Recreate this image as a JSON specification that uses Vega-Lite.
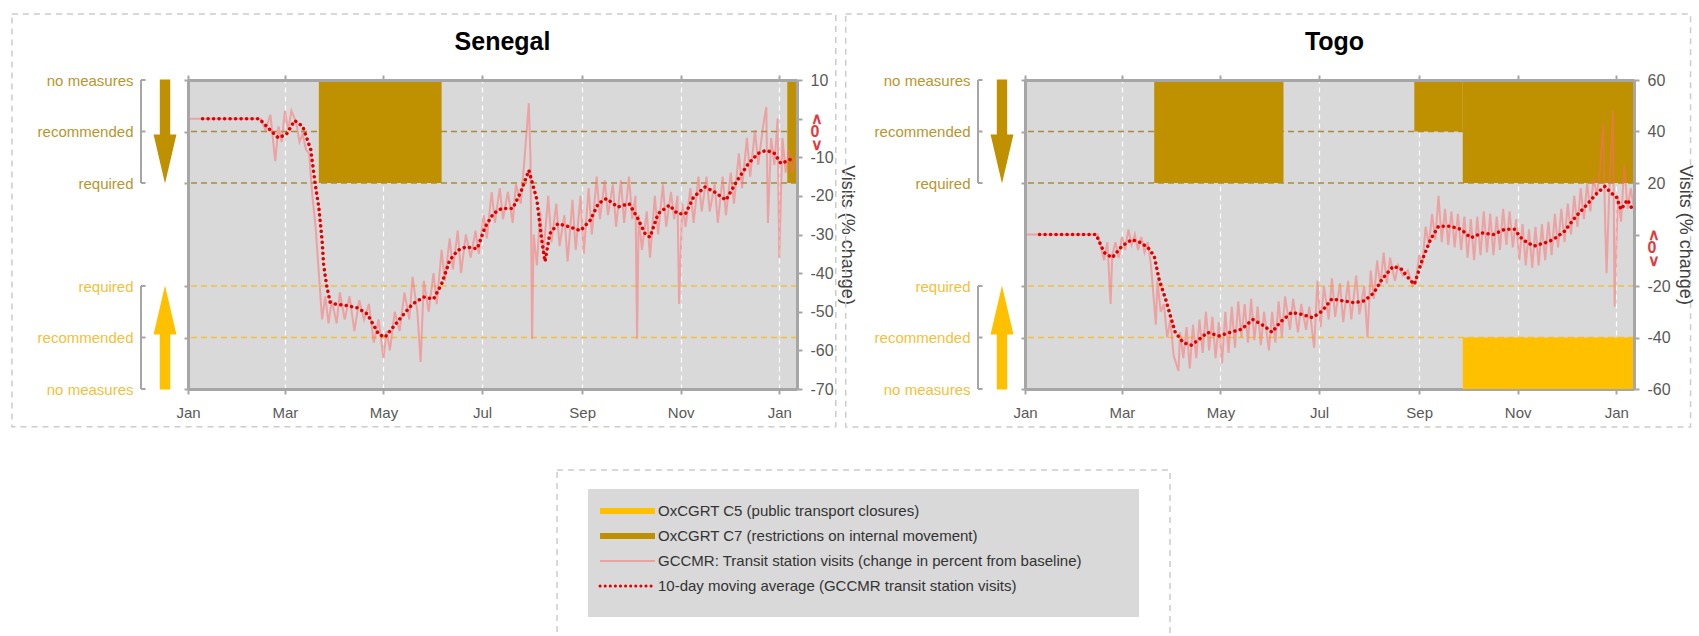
{
"$schema": "https://vega.github.io/schema/vega-lite/v6.json",
"background": "white",
"padding": {"left": 11, "top": 13, "right": 2, "bottom": 0},
"config": {"font": "Liberation Sans", "view": {"stroke": null}, "axis": {"labelFont": "Liberation Sans", "titleFont": "Liberation Sans", "labelOverlap": false}},
"datasets": {
"levelTicks": [
{"side": "C7", "value": 6, "label": "no measures"},
{"side": "C7", "value": 5, "label": "recommended"},
{"side": "C7", "value": 4, "label": "required"},
{"side": "C5", "value": 2, "label": "required"},
{"side": "C5", "value": 1, "label": "recommended"},
{"side": "C5", "value": 0, "label": "no measures"}
],
"levelLines": [
{"indicator": "C7", "level": 1}, {"indicator": "C7", "level": 2},
{"indicator": "C5", "level": 1}, {"indicator": "C5", "level": 2}
],
"policy": [
{"country": "Senegal", "indicator": "C7", "start": "2020-03-22", "end": "2020-06-06", "level": 2},
{"country": "Senegal", "indicator": "C7", "start": "2021-01-06", "end": "2021-01-12", "level": 2},
{"country": "Togo", "indicator": "C7", "start": "2020-03-21", "end": "2020-06-09", "level": 2},
{"country": "Togo", "indicator": "C7", "start": "2020-08-29", "end": "2020-09-28", "level": 1},
{"country": "Togo", "indicator": "C7", "start": "2020-09-28", "end": "2021-01-12", "level": 2},
{"country": "Togo", "indicator": "C5", "start": "2020-09-28", "end": "2021-01-12", "level": 1}
],
"legend": [
{"key": "C5", "label": "OxCGRT C5 (public transport closures)", "order": 1},
{"key": "C7", "label": "OxCGRT C7 (restrictions on internal movement)", "order": 2},
{"key": "GCCMR", "label": "GCCMR: Transit station visits (change in percent from baseline)", "order": 3},
{"key": "MA", "label": "10-day moving average (GCCMR transit station visits)", "order": 4}
],
"visitsSenegal": [
{"date":"2020-01-01","value":0},{"date":"2020-02-14","value":0},{"date":"2020-02-15","value":0},{"date":"2020-02-18","value":-3},{"date":"2020-02-21","value":1},{"date":"2020-02-24","value":-11},{"date":"2020-02-26","value":-2},{"date":"2020-02-28","value":-6},{"date":"2020-03-01","value":2},{"date":"2020-03-03","value":-3},{"date":"2020-03-05","value":2},{"date":"2020-03-08","value":-1},{"date":"2020-03-10","value":-6},{"date":"2020-03-12","value":-4},{"date":"2020-03-14","value":-8},{"date":"2020-03-16","value":-9},{"date":"2020-03-18","value":-20},{"date":"2020-03-20","value":-28},{"date":"2020-03-22","value":-40},{"date":"2020-03-24","value":-52},{"date":"2020-03-26","value":-46},{"date":"2020-03-28","value":-53},{"date":"2020-03-30","value":-47},{"date":"2020-04-02","value":-53},{"date":"2020-04-04","value":-45},{"date":"2020-04-07","value":-52},{"date":"2020-04-10","value":-46},{"date":"2020-04-13","value":-55},{"date":"2020-04-16","value":-47},{"date":"2020-04-19","value":-52},{"date":"2020-04-22","value":-48},{"date":"2020-04-25","value":-58},{"date":"2020-04-28","value":-52},{"date":"2020-05-01","value":-62},{"date":"2020-05-03","value":-55},{"date":"2020-05-05","value":-60},{"date":"2020-05-08","value":-50},{"date":"2020-05-11","value":-55},{"date":"2020-05-14","value":-45},{"date":"2020-05-17","value":-52},{"date":"2020-05-19","value":-41},{"date":"2020-05-22","value":-50},{"date":"2020-05-24","value":-63},{"date":"2020-05-26","value":-42},{"date":"2020-05-29","value":-50},{"date":"2020-06-01","value":-40},{"date":"2020-06-03","value":-48},{"date":"2020-06-06","value":-34},{"date":"2020-06-08","value":-42},{"date":"2020-06-11","value":-31},{"date":"2020-06-13","value":-39},{"date":"2020-06-16","value":-29},{"date":"2020-06-18","value":-40},{"date":"2020-06-21","value":-30},{"date":"2020-06-24","value":-36},{"date":"2020-06-27","value":-29},{"date":"2020-06-29","value":-35},{"date":"2020-07-02","value":-25},{"date":"2020-07-04","value":-31},{"date":"2020-07-07","value":-19},{"date":"2020-07-09","value":-27},{"date":"2020-07-12","value":-18},{"date":"2020-07-14","value":-26},{"date":"2020-07-17","value":-19},{"date":"2020-07-20","value":-27},{"date":"2020-07-22","value":-17},{"date":"2020-07-25","value":-22},{"date":"2020-07-27","value":-12},{"date":"2020-07-30","value":4},{"date":"2020-07-31","value":-10},{"date":"2020-08-01","value":-57},{"date":"2020-08-02","value":-30},{"date":"2020-08-04","value":-38},{"date":"2020-08-06","value":-24},{"date":"2020-08-08","value":-35},{"date":"2020-08-11","value":-20},{"date":"2020-08-13","value":-32},{"date":"2020-08-16","value":-22},{"date":"2020-08-18","value":-33},{"date":"2020-08-21","value":-25},{"date":"2020-08-23","value":-37},{"date":"2020-08-26","value":-21},{"date":"2020-08-28","value":-34},{"date":"2020-08-31","value":-20},{"date":"2020-09-02","value":-35},{"date":"2020-09-05","value":-18},{"date":"2020-09-07","value":-30},{"date":"2020-09-10","value":-15},{"date":"2020-09-12","value":-26},{"date":"2020-09-15","value":-16},{"date":"2020-09-17","value":-25},{"date":"2020-09-20","value":-17},{"date":"2020-09-22","value":-28},{"date":"2020-09-25","value":-16},{"date":"2020-09-27","value":-27},{"date":"2020-09-30","value":-15},{"date":"2020-10-02","value":-26},{"date":"2020-10-04","value":-20},{"date":"2020-10-05","value":-57},{"date":"2020-10-06","value":-25},{"date":"2020-10-08","value":-34},{"date":"2020-10-11","value":-24},{"date":"2020-10-13","value":-36},{"date":"2020-10-16","value":-20},{"date":"2020-10-18","value":-30},{"date":"2020-10-21","value":-17},{"date":"2020-10-23","value":-28},{"date":"2020-10-26","value":-19},{"date":"2020-10-28","value":-26},{"date":"2020-10-30","value":-20},{"date":"2020-10-31","value":-48},{"date":"2020-11-02","value":-22},{"date":"2020-11-04","value":-28},{"date":"2020-11-07","value":-18},{"date":"2020-11-09","value":-27},{"date":"2020-11-12","value":-15},{"date":"2020-11-14","value":-24},{"date":"2020-11-17","value":-15},{"date":"2020-11-19","value":-24},{"date":"2020-11-22","value":-17},{"date":"2020-11-24","value":-27},{"date":"2020-11-27","value":-15},{"date":"2020-11-29","value":-25},{"date":"2020-12-02","value":-14},{"date":"2020-12-04","value":-22},{"date":"2020-12-07","value":-9},{"date":"2020-12-09","value":-18},{"date":"2020-12-12","value":-5},{"date":"2020-12-14","value":-15},{"date":"2020-12-17","value":-3},{"date":"2020-12-19","value":-12},{"date":"2020-12-22","value":-2},{"date":"2020-12-24","value":3},{"date":"2020-12-25","value":-27},{"date":"2020-12-27","value":-5},{"date":"2020-12-29","value":-12},{"date":"2020-12-31","value":0},{"date":"2021-01-01","value":-36},{"date":"2021-01-03","value":-5},{"date":"2021-01-05","value":-14},{"date":"2021-01-07","value":-8},{"date":"2021-01-09","value":-14},{"date":"2021-01-12","value":-9}
],
"maSenegal": [
{"date":"2020-01-10","value":0},{"date":"2020-02-14","value":0},{"date":"2020-02-21","value":-3},{"date":"2020-02-26","value":-5},{"date":"2020-03-02","value":-4},{"date":"2020-03-07","value":-0.5},{"date":"2020-03-12","value":-2},{"date":"2020-03-17","value":-8},{"date":"2020-03-20","value":-17.7},{"date":"2020-03-22","value":-23},{"date":"2020-03-24","value":-31.5},{"date":"2020-03-25","value":-38},{"date":"2020-03-27","value":-43.6},{"date":"2020-03-29","value":-47.5},{"date":"2020-04-01","value":-48},{"date":"2020-04-08","value":-48.4},{"date":"2020-04-15","value":-49},{"date":"2020-04-21","value":-50.6},{"date":"2020-04-28","value":-55.8},{"date":"2020-05-02","value":-56.6},{"date":"2020-05-05","value":-55},{"date":"2020-05-12","value":-51.4},{"date":"2020-05-19","value":-48},{"date":"2020-05-26","value":-46.2},{"date":"2020-06-01","value":-46.7},{"date":"2020-06-06","value":-42.8},{"date":"2020-06-11","value":-36.7},{"date":"2020-06-16","value":-34.1},{"date":"2020-06-21","value":-33.2},{"date":"2020-06-28","value":-33.7},{"date":"2020-07-03","value":-28},{"date":"2020-07-08","value":-24.6},{"date":"2020-07-13","value":-23.3},{"date":"2020-07-20","value":-23.3},{"date":"2020-07-25","value":-19},{"date":"2020-07-30","value":-13.4},{"date":"2020-08-04","value":-21},{"date":"2020-08-07","value":-31.5},{"date":"2020-08-09","value":-37},{"date":"2020-08-12","value":-29.8},{"date":"2020-08-17","value":-27.2},{"date":"2020-08-24","value":-28},{"date":"2020-08-31","value":-29},{"date":"2020-09-06","value":-26.3},{"date":"2020-09-11","value":-22},{"date":"2020-09-16","value":-20.7},{"date":"2020-09-23","value":-22.9},{"date":"2020-09-30","value":-22},{"date":"2020-10-05","value":-25.5},{"date":"2020-10-10","value":-29.8},{"date":"2020-10-13","value":-30.7},{"date":"2020-10-18","value":-24.6},{"date":"2020-10-25","value":-22.4},{"date":"2020-10-30","value":-24.6},{"date":"2020-11-04","value":-24.6},{"date":"2020-11-09","value":-20.3},{"date":"2020-11-16","value":-17.7},{"date":"2020-11-22","value":-19},{"date":"2020-11-29","value":-21.1},{"date":"2020-12-06","value":-16},{"date":"2020-12-13","value":-11.6},{"date":"2020-12-19","value":-9},{"date":"2020-12-24","value":-8.2},{"date":"2020-12-29","value":-9},{"date":"2021-01-02","value":-11.6},{"date":"2021-01-07","value":-10.8},{"date":"2021-01-10","value":-9.9}
],
"visitsTogo": [
{"date":"2020-01-01","value":0},{"date":"2020-02-14","value":0},{"date":"2020-02-15","value":0},{"date":"2020-02-17","value":-5},{"date":"2020-02-19","value":-10},{"date":"2020-02-21","value":-3},{"date":"2020-02-23","value":-27},{"date":"2020-02-24","value":-8},{"date":"2020-02-26","value":-3},{"date":"2020-02-28","value":-9},{"date":"2020-03-01","value":-1},{"date":"2020-03-03","value":-6},{"date":"2020-03-05","value":2},{"date":"2020-03-07","value":-4},{"date":"2020-03-09","value":0},{"date":"2020-03-11","value":-6},{"date":"2020-03-13","value":-1},{"date":"2020-03-15","value":-7},{"date":"2020-03-17","value":-3},{"date":"2020-03-19","value":-12},{"date":"2020-03-22","value":-35},{"date":"2020-03-23","value":-18},{"date":"2020-03-25","value":-30},{"date":"2020-03-27","value":-27},{"date":"2020-03-29","value":-40},{"date":"2020-03-31","value":-33},{"date":"2020-04-02","value":-47},{"date":"2020-04-05","value":-53},{"date":"2020-04-06","value":-38},{"date":"2020-04-08","value":-48},{"date":"2020-04-10","value":-36},{"date":"2020-04-12","value":-52},{"date":"2020-04-14","value":-35},{"date":"2020-04-16","value":-48},{"date":"2020-04-18","value":-33},{"date":"2020-04-20","value":-46},{"date":"2020-04-22","value":-30},{"date":"2020-04-24","value":-45},{"date":"2020-04-26","value":-32},{"date":"2020-04-28","value":-48},{"date":"2020-04-30","value":-34},{"date":"2020-05-02","value":-50},{"date":"2020-05-04","value":-30},{"date":"2020-05-06","value":-46},{"date":"2020-05-08","value":-28},{"date":"2020-05-10","value":-44},{"date":"2020-05-12","value":-26},{"date":"2020-05-14","value":-40},{"date":"2020-05-16","value":-27},{"date":"2020-05-18","value":-42},{"date":"2020-05-20","value":-25},{"date":"2020-05-22","value":-41},{"date":"2020-05-24","value":-28},{"date":"2020-05-26","value":-43},{"date":"2020-05-28","value":-30},{"date":"2020-05-31","value":-45},{"date":"2020-06-02","value":-30},{"date":"2020-06-04","value":-42},{"date":"2020-06-06","value":-26},{"date":"2020-06-08","value":-40},{"date":"2020-06-10","value":-24},{"date":"2020-06-13","value":-37},{"date":"2020-06-15","value":-25},{"date":"2020-06-18","value":-38},{"date":"2020-06-20","value":-27},{"date":"2020-06-23","value":-37},{"date":"2020-06-25","value":-28},{"date":"2020-06-28","value":-44},{"date":"2020-06-30","value":-18},{"date":"2020-07-02","value":-36},{"date":"2020-07-04","value":-20},{"date":"2020-07-07","value":-33},{"date":"2020-07-09","value":-17},{"date":"2020-07-11","value":-32},{"date":"2020-07-14","value":-19},{"date":"2020-07-16","value":-34},{"date":"2020-07-19","value":-18},{"date":"2020-07-21","value":-33},{"date":"2020-07-24","value":-16},{"date":"2020-07-26","value":-31},{"date":"2020-07-29","value":-20},{"date":"2020-07-31","value":-40},{"date":"2020-08-02","value":-14},{"date":"2020-08-04","value":-25},{"date":"2020-08-06","value":-10},{"date":"2020-08-08","value":-20},{"date":"2020-08-10","value":-7},{"date":"2020-08-12","value":-19},{"date":"2020-08-14","value":-9},{"date":"2020-08-17","value":-18},{"date":"2020-08-19","value":-12},{"date":"2020-08-22","value":-16},{"date":"2020-08-25","value":-14},{"date":"2020-08-28","value":-20},{"date":"2020-08-30","value":-18},{"date":"2020-09-01","value":-8},{"date":"2020-09-03","value":-12},{"date":"2020-09-05","value":3},{"date":"2020-09-07","value":-4},{"date":"2020-09-09","value":8},{"date":"2020-09-11","value":-2},{"date":"2020-09-13","value":15},{"date":"2020-09-15","value":-3},{"date":"2020-09-17","value":10},{"date":"2020-09-19","value":-4},{"date":"2020-09-21","value":9},{"date":"2020-09-23","value":-5},{"date":"2020-09-25","value":8},{"date":"2020-09-27","value":-6},{"date":"2020-09-29","value":7},{"date":"2020-10-01","value":-9},{"date":"2020-10-03","value":6},{"date":"2020-10-05","value":-10},{"date":"2020-10-07","value":7},{"date":"2020-10-09","value":-8},{"date":"2020-10-11","value":9},{"date":"2020-10-13","value":-7},{"date":"2020-10-15","value":8},{"date":"2020-10-17","value":-8},{"date":"2020-10-19","value":7},{"date":"2020-10-21","value":-6},{"date":"2020-10-23","value":10},{"date":"2020-10-25","value":-4},{"date":"2020-10-27","value":9},{"date":"2020-10-29","value":-5},{"date":"2020-10-31","value":6},{"date":"2020-11-02","value":-10},{"date":"2020-11-04","value":4},{"date":"2020-11-06","value":-12},{"date":"2020-11-08","value":2},{"date":"2020-11-10","value":-13},{"date":"2020-11-12","value":3},{"date":"2020-11-14","value":-12},{"date":"2020-11-16","value":4},{"date":"2020-11-18","value":-10},{"date":"2020-11-20","value":5},{"date":"2020-11-22","value":-8},{"date":"2020-11-24","value":8},{"date":"2020-11-26","value":-5},{"date":"2020-11-28","value":10},{"date":"2020-11-30","value":-3},{"date":"2020-12-02","value":12},{"date":"2020-12-04","value":0},{"date":"2020-12-06","value":15},{"date":"2020-12-08","value":3},{"date":"2020-12-10","value":18},{"date":"2020-12-12","value":6},{"date":"2020-12-14","value":20},{"date":"2020-12-16","value":9},{"date":"2020-12-18","value":22},{"date":"2020-12-20","value":15},{"date":"2020-12-22","value":26},{"date":"2020-12-24","value":43},{"date":"2020-12-25","value":8},{"date":"2020-12-26","value":-15},{"date":"2020-12-28","value":22},{"date":"2020-12-30","value":48},{"date":"2020-12-31","value":-28},{"date":"2021-01-02","value":15},{"date":"2021-01-04","value":5},{"date":"2021-01-06","value":27},{"date":"2021-01-08","value":10},{"date":"2021-01-10","value":18},{"date":"2021-01-12","value":10}
],
"maTogo": [
{"date":"2020-01-10","value":0},{"date":"2020-02-14","value":0},{"date":"2020-02-19","value":-7},{"date":"2020-02-24","value":-9},{"date":"2020-03-01","value":-4.5},{"date":"2020-03-07","value":-2},{"date":"2020-03-12","value":-3},{"date":"2020-03-17","value":-5},{"date":"2020-03-21","value":-8.4},{"date":"2020-03-24","value":-17.4},{"date":"2020-03-28","value":-25},{"date":"2020-03-31","value":-31.6},{"date":"2020-04-03","value":-38},{"date":"2020-04-08","value":-42},{"date":"2020-04-13","value":-43},{"date":"2020-04-18","value":-40.6},{"date":"2020-04-23","value":-38},{"date":"2020-04-30","value":-39.4},{"date":"2020-05-07","value":-38},{"date":"2020-05-14","value":-36.8},{"date":"2020-05-21","value":-33},{"date":"2020-05-28","value":-35.5},{"date":"2020-06-02","value":-38},{"date":"2020-06-07","value":-34},{"date":"2020-06-14","value":-30.3},{"date":"2020-06-20","value":-31},{"date":"2020-06-27","value":-32.3},{"date":"2020-07-03","value":-29.7},{"date":"2020-07-09","value":-25},{"date":"2020-07-16","value":-25.8},{"date":"2020-07-23","value":-26.5},{"date":"2020-07-29","value":-25.8},{"date":"2020-08-04","value":-22.6},{"date":"2020-08-09","value":-17.4},{"date":"2020-08-16","value":-12.3},{"date":"2020-08-21","value":-13.5},{"date":"2020-08-26","value":-17.4},{"date":"2020-08-29","value":-19.4},{"date":"2020-09-03","value":-9.7},{"date":"2020-09-08","value":-2},{"date":"2020-09-13","value":3.2},{"date":"2020-09-20","value":3.2},{"date":"2020-09-27","value":2},{"date":"2020-10-03","value":-1.3},{"date":"2020-10-10","value":0.6},{"date":"2020-10-17","value":0},{"date":"2020-10-24","value":2},{"date":"2020-10-30","value":2},{"date":"2020-11-04","value":-2},{"date":"2020-11-11","value":-4.5},{"date":"2020-11-18","value":-3.2},{"date":"2020-11-23","value":-2},{"date":"2020-11-30","value":1.3},{"date":"2020-12-07","value":7},{"date":"2020-12-13","value":11},{"date":"2020-12-20","value":16},{"date":"2020-12-25","value":18.7},{"date":"2020-12-29","value":16},{"date":"2021-01-01","value":14.8},{"date":"2021-01-04","value":9.7},{"date":"2021-01-08","value":13.5},{"date":"2021-01-11","value":9.7}
]
},
"vconcat": [
{"hconcat": [
 {"hconcat": [
  {"width": 35, "height": 309, "data": {"name": "levelTicks"},
   "layer": [
    {"transform": [{"aggregate": [{"op": "min", "field": "value", "as": "lo"}, {"op": "max", "field": "value", "as": "hi"}], "groupby": ["side"]}],
     "mark": {"type": "rule", "color": "#a6a6a6", "strokeWidth": 2},
     "encoding": {"x": {"datum": 0, "type": "quantitative", "scale": {"domain": [0, 1]}, "axis": null},
      "y": {"field": "lo", "type": "quantitative", "scale": {"domain": [0, 6]}, "axis": {"orient": "left", "values": [0,1,2,4,5,6], "labelExpr": "datum.value == 0 || datum.value == 6 ? 'no measures' : (datum.value == 1 || datum.value == 5 ? 'recommended' : 'required')", "domain": false, "ticks": false, "tickSize": 0, "grid": false, "title": null, "labelFontSize": 15, "labelPadding": 8, "labelColor": {"condition": {"test": "datum.value >= 4", "value": "#b8962e"}, "value": "#f2c13c"}}},
      "y2": {"field": "hi"}}},
    {"mark": {"type": "rule", "color": "#a6a6a6", "strokeWidth": 2},
     "encoding": {"x": {"datum": 0, "type": "quantitative", "scale": {"domain": [0, 1]}, "axis": null}, "x2": {"datum": 0.13},
      "y": {"field": "value", "type": "quantitative", "scale": {"domain": [0, 6]}, "axis": {"orient": "left", "values": [0,1,2,4,5,6], "labelExpr": "datum.value == 0 || datum.value == 6 ? 'no measures' : (datum.value == 1 || datum.value == 5 ? 'recommended' : 'required')", "domain": false, "ticks": false, "tickSize": 0, "grid": false, "title": null, "labelFontSize": 15, "labelPadding": 8, "labelColor": {"condition": {"test": "datum.value >= 4", "value": "#b8962e"}, "value": "#f2c13c"}}}}},
    {"transform": [{"filter": "datum.label == 'recommended'"}],
     "mark": {"type": "point", "filled": true, "opacity": 1, "strokeWidth": 0, "size": 10816},
     "encoding": {"x": {"datum": 0.686, "type": "quantitative", "scale": {"domain": [0, 1]}, "axis": null},
      "y": {"field": "value", "type": "quantitative", "scale": {"domain": [0, 6]}, "axis": {"orient": "left", "values": [0,1,2,4,5,6], "labelExpr": "datum.value == 0 || datum.value == 6 ? 'no measures' : (datum.value == 1 || datum.value == 5 ? 'recommended' : 'required')", "domain": false, "ticks": false, "tickSize": 0, "grid": false, "title": null, "labelFontSize": 15, "labelPadding": 8, "labelColor": {"condition": {"test": "datum.value >= 4", "value": "#b8962e"}, "value": "#f2c13c"}}},
      "shape": {"field": "side", "type": "nominal", "scale": {"domain": ["C7", "C5"], "range": ["M-0.1,-1L0.1,-1L0.1,0.06L0.22,0.06L0,1L-0.22,0.06L-0.1,0.06Z", "M-0.1,1L0.1,1L0.1,-0.06L0.22,-0.06L0,-1L-0.22,-0.06L-0.1,-0.06Z"]}, "legend": null},
      "color": {"field": "side", "type": "nominal", "scale": {"domain": ["C7", "C5"], "range": ["#bf9000", "#ffc000"]}, "legend": null}}}
   ]},
  {"width": 609, "height": 309,
   "title": {"text": "Senegal", "fontSize": 25, "fontWeight": "bold", "color": "#000000", "offset": -42, "dx": 10, "frame": "group"},
   "view": {"fill": "#d9d9d9", "stroke": null},
   "resolve": {"scale": {"y": "independent"}, "axis": {"x": "independent", "y": "independent"}},
   "layer": [
    {"layer": [
      {"data": {"name": "levelLines"}, "transform": [{"filter": "datum.indicator == 'C7'"}],
       "mark": {"type": "rule", "strokeDash": [6, 4], "strokeWidth": 1.5, "color": "#a88c3a"},
       "encoding": {"y": {"field": "level", "type": "quantitative", "scale": {"domain": [0, 6], "reverse": true}, "axis": {"orient": "left", "values": [0,1,2,4,5,6], "labels": false, "title": null, "grid": false, "domainColor": "#a6a6a6", "domainWidth": 3, "tickColor": "#a6a6a6", "tickWidth": 2, "tickSize": 4, "zindex": 1}}}},
      {"data": {"name": "policy"}, "transform": [{"filter": "datum.country == 'Senegal' && datum.indicator == 'C7'"}],
       "mark": {"type": "rect", "color": "#bf9000"},
       "encoding": {"x": {"field": "start", "type": "temporal", "scale": {"domain": ["2020-01-01", "2021-01-12"]}, "axis": {"orient": "bottom", "format": "%b", "tickCount": {"interval": "month", "step": 2}, "labelFlush": false, "grid": true, "gridColor": "#ffffff", "gridDash": [5, 4], "gridWidth": 1.2, "domainColor": "#a6a6a6", "domainWidth": 3, "tickColor": "#a6a6a6", "tickWidth": 2, "tickSize": 5, "labelFontSize": 15, "labelColor": "#595959", "labelPadding": 11, "title": null}},
        "x2": {"field": "end"},
        "y": {"field": "level", "type": "quantitative", "scale": {"domain": [0, 6], "reverse": true}, "axis": {"orient": "left", "values": [0,1,2,4,5,6], "labels": false, "title": null, "grid": false, "domainColor": "#a6a6a6", "domainWidth": 3, "tickColor": "#a6a6a6", "tickWidth": 2, "tickSize": 4, "zindex": 1}},
        "y2": {"datum": 0}}}
    ]},
    {"layer": [
      {"data": {"name": "levelLines"}, "transform": [{"filter": "datum.indicator == 'C5'"}],
       "mark": {"type": "rule", "strokeDash": [6, 4], "strokeWidth": 1.5, "color": "#f0c040"},
       "encoding": {"y": {"field": "level", "type": "quantitative", "scale": {"domain": [0, 6]}, "axis": null}}},
      {"data": {"name": "policy"}, "transform": [{"filter": "datum.country == 'Senegal' && datum.indicator == 'C5'"}],
       "mark": {"type": "rect", "color": "#ffc000"},
       "encoding": {"x": {"field": "start", "type": "temporal", "scale": {"domain": ["2020-01-01", "2021-01-12"]}, "axis": {"orient": "top", "tickCount": {"interval": "month", "step": 2}, "labels": false, "grid": false, "domainColor": "#a6a6a6", "domainWidth": 3, "tickColor": "#a6a6a6", "tickWidth": 2, "tickSize": 5, "title": null, "zindex": 1}},
        "x2": {"field": "end"},
        "y": {"field": "level", "type": "quantitative", "scale": {"domain": [0, 6]}, "axis": null},
        "y2": {"datum": 0}}}
    ]},
    {"layer": [
      {"data": {"name": "visitsSenegal"},
       "mark": {"type": "line", "color": "#ff6b6b", "opacity": 0.5, "strokeWidth": 2},
       "encoding": {"x": {"field": "date", "type": "temporal", "scale": {"domain": ["2020-01-01", "2021-01-12"]}, "axis": null},
        "y": {"field": "value", "type": "quantitative", "scale": {"domain": [-70, 10]}, "axis": {"orient": "right", "values": [-70,-60,-50,-40,-30,-20,-10,0,10], "labelExpr": "datum.value == 0 ? ['∧','0','∨'] : '' + datum.value", "labelLineHeight": 13, "labelOverlap": false, "labelBound": false, "title": "Visits (% change)", "titleFontSize": 18, "titleFontWeight": "normal", "titleColor": "#404040", "titlePadding": 4, "grid": false, "domainColor": "#a6a6a6", "domainWidth": 3, "tickColor": "#a6a6a6", "tickWidth": 2, "tickSize": 5, "labelFontSize": 16, "labelPadding": 8, "labelColor": {"condition": {"test": "datum.value == 0", "value": "#e0393e"}, "value": "#595959"}, "labelFontWeight": {"condition": {"test": "datum.value == 0", "value": "bold"}, "value": "normal"}, "zindex": 1}}}},
      {"data": {"name": "maSenegal"},
       "mark": {"type": "line", "color": "#e00000", "strokeWidth": 3.5, "strokeDash": [0.1, 5.4], "strokeCap": "round"},
       "encoding": {"x": {"field": "date", "type": "temporal", "scale": {"domain": ["2020-01-01", "2021-01-12"]}, "axis": null},
        "y": {"field": "value", "type": "quantitative", "scale": {"domain": [-70, 10]}, "axis": {"orient": "right", "values": [-70,-60,-50,-40,-30,-20,-10,0,10], "labelExpr": "datum.value == 0 ? ['∧','0','∨'] : '' + datum.value", "labelLineHeight": 13, "labelOverlap": false, "labelBound": false, "title": "Visits (% change)", "titleFontSize": 18, "titleFontWeight": "normal", "titleColor": "#404040", "titlePadding": 4, "grid": false, "domainColor": "#a6a6a6", "domainWidth": 3, "tickColor": "#a6a6a6", "tickWidth": 2, "tickSize": 5, "labelFontSize": 16, "labelPadding": 8, "labelColor": {"condition": {"test": "datum.value == 0", "value": "#e0393e"}, "value": "#595959"}, "labelFontWeight": {"condition": {"test": "datum.value == 0", "value": "bold"}, "value": "normal"}, "zindex": 1}}}},
      {"data": {"name": "levelLines"}, "transform": [{"aggregate": [{"op": "count", "as": "n"}]}],
       "mark": {"type": "rect", "filled": false, "color": "#cccccc", "strokeDash": [6, 5], "strokeWidth": 1.5},
       "encoding": {"x": {"datum": {"year": 2019, "month": 9, "date": 14}, "type": "temporal", "scale": {"domain": ["2020-01-01", "2021-01-12"]}, "axis": null},
        "x2": {"datum": {"year": 2021, "month": 2, "date": 5}},
        "y": {"datum": 27.1, "type": "quantitative", "scale": {"domain": [-70, 10]}, "axis": {"orient": "right", "values": [-70,-60,-50,-40,-30,-20,-10,0,10], "labelExpr": "datum.value == 0 ? ['∧','0','∨'] : '' + datum.value", "labelLineHeight": 13, "labelOverlap": false, "labelBound": false, "title": "Visits (% change)", "titleFontSize": 18, "titleFontWeight": "normal", "titleColor": "#404040", "titlePadding": 4, "grid": false, "domainColor": "#a6a6a6", "domainWidth": 3, "tickColor": "#a6a6a6", "tickWidth": 2, "tickSize": 5, "labelFontSize": 16, "labelPadding": 8, "labelColor": {"condition": {"test": "datum.value == 0", "value": "#e0393e"}, "value": "#595959"}, "labelFontWeight": {"condition": {"test": "datum.value == 0", "value": "bold"}, "value": "normal"}, "zindex": 1}},
        "y2": {"datum": -79.8}}}
    ]}
   ]}
 ], "spacing": 12, "bounds": "flush"},
 {"hconcat": [
  {"width": 35, "height": 309, "data": {"name": "levelTicks"},
   "layer": [
    {"transform": [{"aggregate": [{"op": "min", "field": "value", "as": "lo"}, {"op": "max", "field": "value", "as": "hi"}], "groupby": ["side"]}],
     "mark": {"type": "rule", "color": "#a6a6a6", "strokeWidth": 2},
     "encoding": {"x": {"datum": 0, "type": "quantitative", "scale": {"domain": [0, 1]}, "axis": null},
      "y": {"field": "lo", "type": "quantitative", "scale": {"domain": [0, 6]}, "axis": {"orient": "left", "values": [0,1,2,4,5,6], "labelExpr": "datum.value == 0 || datum.value == 6 ? 'no measures' : (datum.value == 1 || datum.value == 5 ? 'recommended' : 'required')", "domain": false, "ticks": false, "tickSize": 0, "grid": false, "title": null, "labelFontSize": 15, "labelPadding": 8, "labelColor": {"condition": {"test": "datum.value >= 4", "value": "#b8962e"}, "value": "#f2c13c"}}},
      "y2": {"field": "hi"}}},
    {"mark": {"type": "rule", "color": "#a6a6a6", "strokeWidth": 2},
     "encoding": {"x": {"datum": 0, "type": "quantitative", "scale": {"domain": [0, 1]}, "axis": null}, "x2": {"datum": 0.13},
      "y": {"field": "value", "type": "quantitative", "scale": {"domain": [0, 6]}, "axis": {"orient": "left", "values": [0,1,2,4,5,6], "labelExpr": "datum.value == 0 || datum.value == 6 ? 'no measures' : (datum.value == 1 || datum.value == 5 ? 'recommended' : 'required')", "domain": false, "ticks": false, "tickSize": 0, "grid": false, "title": null, "labelFontSize": 15, "labelPadding": 8, "labelColor": {"condition": {"test": "datum.value >= 4", "value": "#b8962e"}, "value": "#f2c13c"}}}}},
    {"transform": [{"filter": "datum.label == 'recommended'"}],
     "mark": {"type": "point", "filled": true, "opacity": 1, "strokeWidth": 0, "size": 10816},
     "encoding": {"x": {"datum": 0.686, "type": "quantitative", "scale": {"domain": [0, 1]}, "axis": null},
      "y": {"field": "value", "type": "quantitative", "scale": {"domain": [0, 6]}, "axis": {"orient": "left", "values": [0,1,2,4,5,6], "labelExpr": "datum.value == 0 || datum.value == 6 ? 'no measures' : (datum.value == 1 || datum.value == 5 ? 'recommended' : 'required')", "domain": false, "ticks": false, "tickSize": 0, "grid": false, "title": null, "labelFontSize": 15, "labelPadding": 8, "labelColor": {"condition": {"test": "datum.value >= 4", "value": "#b8962e"}, "value": "#f2c13c"}}},
      "shape": {"field": "side", "type": "nominal", "scale": {"domain": ["C7", "C5"], "range": ["M-0.1,-1L0.1,-1L0.1,0.06L0.22,0.06L0,1L-0.22,0.06L-0.1,0.06Z", "M-0.1,1L0.1,1L0.1,-0.06L0.22,-0.06L0,-1L-0.22,-0.06L-0.1,-0.06Z"]}, "legend": null},
      "color": {"field": "side", "type": "nominal", "scale": {"domain": ["C7", "C5"], "range": ["#bf9000", "#ffc000"]}, "legend": null}}}
   ]},
  {"width": 609, "height": 309,
   "title": {"text": "Togo", "fontSize": 25, "fontWeight": "bold", "color": "#000000", "offset": -42, "dx": 5, "frame": "group"},
   "view": {"fill": "#d9d9d9", "stroke": null},
   "resolve": {"scale": {"y": "independent"}, "axis": {"x": "independent", "y": "independent"}},
   "layer": [
    {"layer": [
      {"data": {"name": "levelLines"}, "transform": [{"filter": "datum.indicator == 'C7'"}],
       "mark": {"type": "rule", "strokeDash": [6, 4], "strokeWidth": 1.5, "color": "#a88c3a"},
       "encoding": {"y": {"field": "level", "type": "quantitative", "scale": {"domain": [0, 6], "reverse": true}, "axis": {"orient": "left", "values": [0,1,2,4,5,6], "labels": false, "title": null, "grid": false, "domainColor": "#a6a6a6", "domainWidth": 3, "tickColor": "#a6a6a6", "tickWidth": 2, "tickSize": 4, "zindex": 1}}}},
      {"data": {"name": "policy"}, "transform": [{"filter": "datum.country == 'Togo' && datum.indicator == 'C7'"}],
       "mark": {"type": "rect", "color": "#bf9000"},
       "encoding": {"x": {"field": "start", "type": "temporal", "scale": {"domain": ["2020-01-01", "2021-01-12"]}, "axis": {"orient": "bottom", "format": "%b", "tickCount": {"interval": "month", "step": 2}, "labelFlush": false, "grid": true, "gridColor": "#ffffff", "gridDash": [5, 4], "gridWidth": 1.2, "domainColor": "#a6a6a6", "domainWidth": 3, "tickColor": "#a6a6a6", "tickWidth": 2, "tickSize": 5, "labelFontSize": 15, "labelColor": "#595959", "labelPadding": 11, "title": null}},
        "x2": {"field": "end"},
        "y": {"field": "level", "type": "quantitative", "scale": {"domain": [0, 6], "reverse": true}, "axis": {"orient": "left", "values": [0,1,2,4,5,6], "labels": false, "title": null, "grid": false, "domainColor": "#a6a6a6", "domainWidth": 3, "tickColor": "#a6a6a6", "tickWidth": 2, "tickSize": 4, "zindex": 1}},
        "y2": {"datum": 0}}}
    ]},
    {"layer": [
      {"data": {"name": "levelLines"}, "transform": [{"filter": "datum.indicator == 'C5'"}],
       "mark": {"type": "rule", "strokeDash": [6, 4], "strokeWidth": 1.5, "color": "#f0c040"},
       "encoding": {"y": {"field": "level", "type": "quantitative", "scale": {"domain": [0, 6]}, "axis": null}}},
      {"data": {"name": "policy"}, "transform": [{"filter": "datum.country == 'Togo' && datum.indicator == 'C5'"}],
       "mark": {"type": "rect", "color": "#ffc000"},
       "encoding": {"x": {"field": "start", "type": "temporal", "scale": {"domain": ["2020-01-01", "2021-01-12"]}, "axis": {"orient": "top", "tickCount": {"interval": "month", "step": 2}, "labels": false, "grid": false, "domainColor": "#a6a6a6", "domainWidth": 3, "tickColor": "#a6a6a6", "tickWidth": 2, "tickSize": 5, "title": null, "zindex": 1}},
        "x2": {"field": "end"},
        "y": {"field": "level", "type": "quantitative", "scale": {"domain": [0, 6]}, "axis": null},
        "y2": {"datum": 0}}}
    ]},
    {"layer": [
      {"data": {"name": "visitsTogo"},
       "mark": {"type": "line", "color": "#ff6b6b", "opacity": 0.5, "strokeWidth": 2},
       "encoding": {"x": {"field": "date", "type": "temporal", "scale": {"domain": ["2020-01-01", "2021-01-12"]}, "axis": null},
        "y": {"field": "value", "type": "quantitative", "scale": {"domain": [-60, 60]}, "axis": {"orient": "right", "values": [-60,-40,-20,0,20,40,60], "labelExpr": "datum.value == 0 ? ['∧','0','∨'] : '' + datum.value", "labelLineHeight": 13, "labelOverlap": false, "labelBound": false, "title": "Visits (% change)", "titleFontSize": 18, "titleFontWeight": "normal", "titleColor": "#404040", "titlePadding": 5, "grid": false, "domainColor": "#a6a6a6", "domainWidth": 3, "tickColor": "#a6a6a6", "tickWidth": 2, "tickSize": 5, "labelFontSize": 16, "labelPadding": 8, "labelColor": {"condition": {"test": "datum.value == 0", "value": "#e0393e"}, "value": "#595959"}, "labelFontWeight": {"condition": {"test": "datum.value == 0", "value": "bold"}, "value": "normal"}, "zindex": 1}}}},
      {"data": {"name": "maTogo"},
       "mark": {"type": "line", "color": "#e00000", "strokeWidth": 3.5, "strokeDash": [0.1, 5.4], "strokeCap": "round"},
       "encoding": {"x": {"field": "date", "type": "temporal", "scale": {"domain": ["2020-01-01", "2021-01-12"]}, "axis": null},
        "y": {"field": "value", "type": "quantitative", "scale": {"domain": [-60, 60]}, "axis": {"orient": "right", "values": [-60,-40,-20,0,20,40,60], "labelExpr": "datum.value == 0 ? ['∧','0','∨'] : '' + datum.value", "labelLineHeight": 13, "labelOverlap": false, "labelBound": false, "title": "Visits (% change)", "titleFontSize": 18, "titleFontWeight": "normal", "titleColor": "#404040", "titlePadding": 5, "grid": false, "domainColor": "#a6a6a6", "domainWidth": 3, "tickColor": "#a6a6a6", "tickWidth": 2, "tickSize": 5, "labelFontSize": 16, "labelPadding": 8, "labelColor": {"condition": {"test": "datum.value == 0", "value": "#e0393e"}, "value": "#595959"}, "labelFontWeight": {"condition": {"test": "datum.value == 0", "value": "bold"}, "value": "normal"}, "zindex": 1}}}},
      {"data": {"name": "levelLines"}, "transform": [{"aggregate": [{"op": "count", "as": "n"}]}],
       "mark": {"type": "rect", "filled": false, "color": "#cccccc", "strokeDash": [6, 5], "strokeWidth": 1.5},
       "encoding": {"x": {"datum": {"year": 2019, "month": 9, "date": 12}, "type": "temporal", "scale": {"domain": ["2020-01-01", "2021-01-12"]}, "axis": null},
        "x2": {"datum": {"year": 2021, "month": 2, "date": 16}},
        "y": {"datum": 85.6, "type": "quantitative", "scale": {"domain": [-60, 60]}, "axis": {"orient": "right", "values": [-60,-40,-20,0,20,40,60], "labelExpr": "datum.value == 0 ? ['∧','0','∨'] : '' + datum.value", "labelLineHeight": 13, "labelOverlap": false, "labelBound": false, "title": "Visits (% change)", "titleFontSize": 18, "titleFontWeight": "normal", "titleColor": "#404040", "titlePadding": 5, "grid": false, "domainColor": "#a6a6a6", "domainWidth": 3, "tickColor": "#a6a6a6", "tickWidth": 2, "tickSize": 5, "labelFontSize": 16, "labelPadding": 8, "labelColor": {"condition": {"test": "datum.value == 0", "value": "#e0393e"}, "value": "#595959"}, "labelFontWeight": {"condition": {"test": "datum.value == 0", "value": "bold"}, "value": "normal"}, "zindex": 1}},
        "y2": {"datum": -74.8}}}
    ]}
   ]}
 ], "spacing": 12, "bounds": "flush"}
], "spacing": -12},
{"width": 1029, "height": 172,
 "data": {"name": "legend"},
 "layer": [
  {"transform": [{"aggregate": [{"op": "count", "as": "n"}]}],
   "mark": {"type": "rect", "filled": false, "color": "#cccccc", "strokeDash": [6, 5], "strokeWidth": 1.5},
   "encoding": {"x": {"datum": 40.43, "type": "quantitative", "scale": {"domain": [0, 100]}, "axis": null}, "x2": {"datum": 100},
    "y": {"datum": -0.64, "type": "quantitative", "scale": {"domain": [-0.64, 6.24], "reverse": true}, "axis": null}, "y2": {"datum": 6.24}}},
  {"transform": [{"aggregate": [{"op": "count", "as": "n"}]}],
   "mark": {"type": "rect", "color": "#d9d9d9"},
   "encoding": {"x": {"datum": 43.44, "type": "quantitative", "scale": {"domain": [0, 100]}, "axis": null}, "x2": {"datum": 96.99},
    "y": {"datum": 0.12, "type": "quantitative", "scale": {"domain": [-0.64, 6.24], "reverse": true}, "axis": null}, "y2": {"datum": 5.24}}},
  {"transform": [{"filter": "datum.key == 'C5'"}],
   "mark": {"type": "rule", "color": "#ffc000", "strokeWidth": 6, "strokeCap": "butt"},
   "encoding": {"x": {"datum": 44.61, "type": "quantitative", "scale": {"domain": [0, 100]}, "axis": null}, "x2": {"datum": 49.95},
    "y": {"field": "order", "type": "quantitative", "scale": {"domain": [-0.64, 6.24], "reverse": true}, "axis": null}}},
  {"transform": [{"filter": "datum.key == 'C7'"}],
   "mark": {"type": "rule", "color": "#bf9000", "strokeWidth": 6, "strokeCap": "butt"},
   "encoding": {"x": {"datum": 44.61, "type": "quantitative", "scale": {"domain": [0, 100]}, "axis": null}, "x2": {"datum": 49.95},
    "y": {"field": "order", "type": "quantitative", "scale": {"domain": [-0.64, 6.24], "reverse": true}, "axis": null}}},
  {"transform": [{"filter": "datum.key == 'GCCMR'"}],
   "mark": {"type": "rule", "color": "#ff6b6b", "opacity": 0.5, "strokeWidth": 2},
   "encoding": {"x": {"datum": 44.61, "type": "quantitative", "scale": {"domain": [0, 100]}, "axis": null}, "x2": {"datum": 49.95},
    "y": {"field": "order", "type": "quantitative", "scale": {"domain": [-0.64, 6.24], "reverse": true}, "axis": null}}},
  {"transform": [{"filter": "datum.key == 'MA'"}],
   "mark": {"type": "rule", "color": "#e00000", "strokeWidth": 3, "strokeDash": [0.1, 5], "strokeCap": "round"},
   "encoding": {"x": {"datum": 44.61, "type": "quantitative", "scale": {"domain": [0, 100]}, "axis": null}, "x2": {"datum": 49.95},
    "y": {"field": "order", "type": "quantitative", "scale": {"domain": [-0.64, 6.24], "reverse": true}, "axis": null}}},
  {"mark": {"type": "text", "align": "left", "baseline": "middle", "fontSize": 15, "color": "#333333", "font": "Liberation Sans"},
   "encoding": {"x": {"datum": 50.24, "type": "quantitative", "scale": {"domain": [0, 100]}, "axis": null},
    "y": {"field": "order", "type": "quantitative", "scale": {"domain": [-0.64, 6.24], "reverse": true}, "axis": null},
    "text": {"field": "label"}}}
 ]}
],
"spacing": 41
}
